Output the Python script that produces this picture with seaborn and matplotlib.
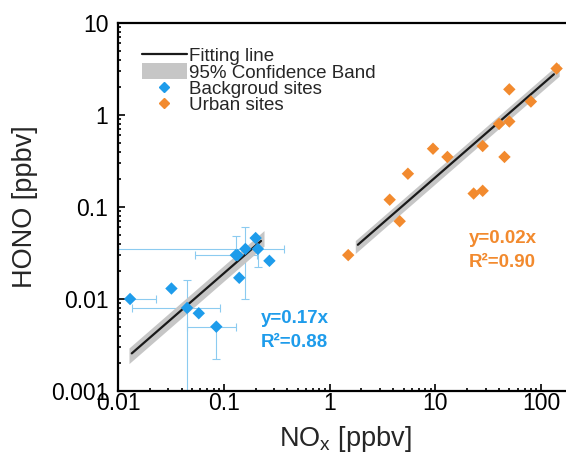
import numpy as np
import pandas as pd
import matplotlib
matplotlib.use("Agg")
import matplotlib.pyplot as plt
from matplotlib.lines import Line2D
from matplotlib.patches import Patch
from matplotlib.ticker import LogLocator, FuncFormatter, NullFormatter
import seaborn as sns

# background sites
bg_x = [0.013, 0.032, 0.045, 0.058, 0.085, 0.14, 0.13, 0.135, 0.16, 0.20, 0.21, 0.27]
bg_y = [0.010, 0.013, 0.008, 0.007, 0.005, 0.017, 0.030, 0.030, 0.035, 0.046, 0.035, 0.026]
bg_xerr_lo = [0.0, 0, 0.0315, 0, 0.040, 0, 0.076, 0, 0, 0, 0.20, 0]
bg_xerr_hi = [0.010, 0, 0.047, 0, 0.045, 0, 0.076, 0, 0, 0, 0.16, 0]
bg_yerr_lo = [0.0, 0, 0.0079, 0, 0.0028, 0, 0.0, 0, 0.025, 0, 0.013, 0]
bg_yerr_hi = [0.0, 0, 0.008, 0, 0.0, 0, 0.018, 0, 0.025, 0, 0.013, 0]

# urban sites
ur_x = [1.5, 3.7, 4.6, 5.5, 9.5, 13, 23, 28, 28, 40, 45, 50, 50, 80, 140]
ur_y = [0.030, 0.12, 0.070, 0.23, 0.43, 0.35, 0.14, 0.15, 0.46, 0.80, 0.35, 0.85, 1.9, 1.4, 3.2]

# fits (y = k*x) and 95% band half width in decades
fit_k = [0.19, 0.021]
fit_band = [0.085, 0.07]
fit_line_range = [[0.0135, 0.225], [1.85, 132]]
fit_band_range = [[0.0127, 0.24], [1.75, 148]]
fit_text = [["y=0.17x", "R²=0.88"], ["y=0.02x", "R²=0.90"]]
text_pos = [[0.225, 0.0062, 0.0034], [20.5, 0.045, 0.0248]]

blue = "#1E9CEB"
orange = "#F28A2E"
errc = "#8CCBF0"
band_c = "#C6C6C6"

sns.set_theme(style="ticks")
plt.rcParams["font.family"] = ["Liberation Sans", "DejaVu Sans"]

df = pd.DataFrame({
    "NOx": bg_x + ur_x,
    "HONO": bg_y + ur_y,
    "site": ["Backgroud sites"] * len(bg_x) + ["Urban sites"] * len(ur_x),
})

fig = plt.figure(figsize=(5.66, 4.58), dpi=100)
ax = fig.add_axes([118 / 566, (458 - 391) / 458, (573 - 118) / 566, (391 - 23) / 458])
ax.set_xscale("log")
ax.set_yscale("log")

# error bars of background sites
ax.errorbar(bg_x, bg_y, xerr=[bg_xerr_lo, bg_xerr_hi], yerr=[bg_yerr_lo, bg_yerr_hi],
            fmt="none", ecolor=errc, elinewidth=0.8, capsize=3, capthick=0.8, zorder=1)

# fitting lines and bands
colors = [blue, orange]
for i in range(2):
    xb = np.geomspace(fit_band_range[i][0], fit_band_range[i][1], 50)
    ax.fill_between(xb, fit_k[i] * xb / 10 ** fit_band[i], fit_k[i] * xb * 10 ** fit_band[i],
                    color=band_c, lw=0, zorder=2)
    xl = np.geomspace(fit_line_range[i][0], fit_line_range[i][1], 50)
    ax.plot(xl, fit_k[i] * xl, color="#1a1a1a", lw=1.6, zorder=3)
    ax.text(text_pos[i][0], text_pos[i][1], fit_text[i][0], color=colors[i],
            fontsize=13.5, fontweight="bold", va="center", ha="left")
    ax.text(text_pos[i][0], text_pos[i][2], fit_text[i][1], color=colors[i],
            fontsize=13.5, fontweight="bold", va="center", ha="left")

sns.scatterplot(data=df, x="NOx", y="HONO", hue="site", palette=[blue, orange],
                marker="D", s=40, linewidth=0, ax=ax, zorder=4, legend=False)

ax.set_xlim(0.01, 200)
ax.set_ylim(0.001, 10)
ax.xaxis.set_major_locator(LogLocator(base=10, numticks=10))
ax.yaxis.set_major_locator(LogLocator(base=10, numticks=10))
ax.xaxis.set_minor_locator(LogLocator(base=10, subs=np.arange(2, 10), numticks=20))
ax.yaxis.set_minor_locator(LogLocator(base=10, subs=np.arange(2, 10), numticks=20))
fmt = FuncFormatter(lambda v, p: f"{v:g}")
ax.xaxis.set_major_formatter(fmt)
ax.yaxis.set_major_formatter(fmt)
ax.xaxis.set_minor_formatter(NullFormatter())
ax.yaxis.set_minor_formatter(NullFormatter())

ax.tick_params(which="both", direction="in", top=False, right=False, width=1.2, colors="black")
ax.tick_params(which="major", length=5, labelsize=16.5)
ax.tick_params(which="minor", length=2.5)
ax.tick_params(axis="x", pad=1)
ax.tick_params(axis="y", pad=7)
for s in ax.spines.values():
    s.set_linewidth(1.6)
    s.set_color("black")

ax.set_xlabel("NO$_\\mathregular{x}$ [ppbv]", fontsize=19.5, labelpad=6)
ax.set_ylabel("HONO [ppbv]", fontsize=19.5, labelpad=9)

handles = [
    Line2D([], [], color="#1a1a1a", lw=1.6),
    Patch(facecolor=band_c, edgecolor="none"),
    Line2D([], [], color=blue, marker="D", ms=5, lw=0),
    Line2D([], [], color=orange, marker="D", ms=5, lw=0),
]
labels = ["Fitting line", "95% Confidence Band", "Backgroud sites", "Urban sites"]
ax.legend(handles, labels, loc="upper left", bbox_to_anchor=(0.052, 0.935), frameon=False,
          fontsize=13.5, handlelength=2.4, handleheight=0.9, handletextpad=0.1,
          labelspacing=-0.1, borderpad=0, borderaxespad=0)

fig.savefig("out.png", dpi=100)
